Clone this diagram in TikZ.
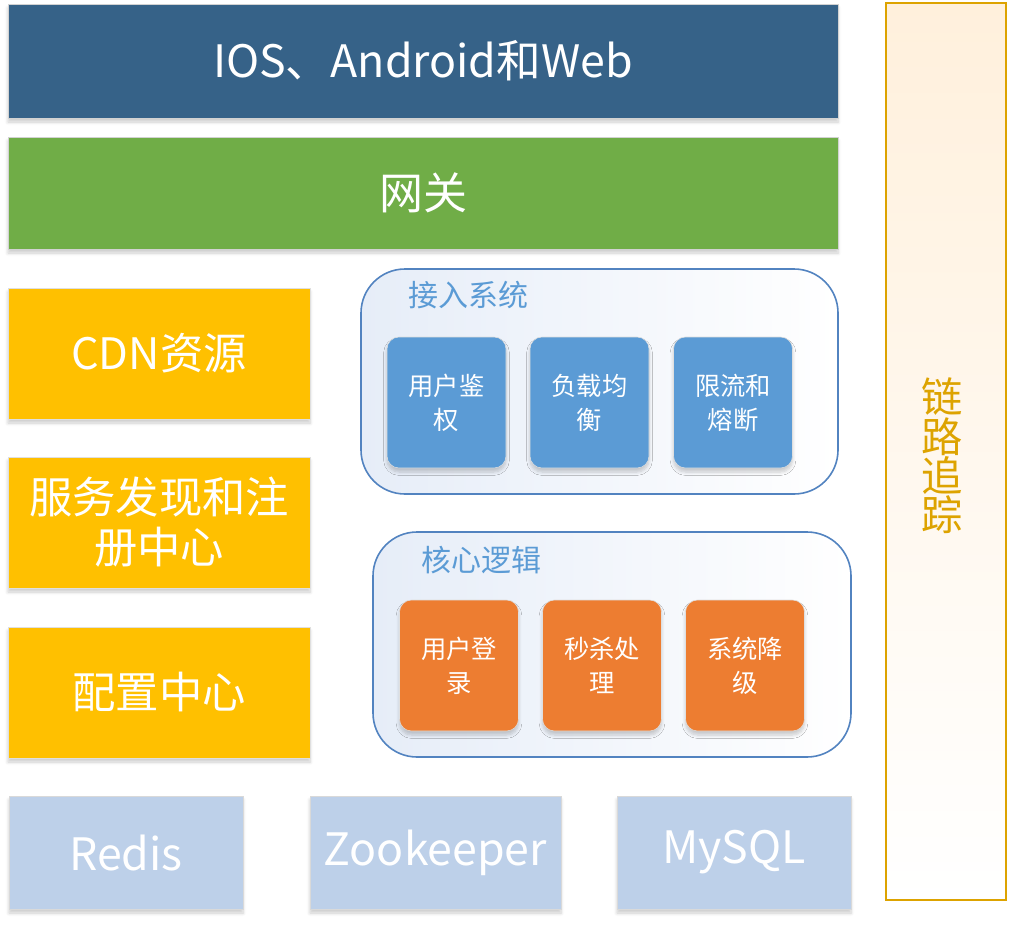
\documentclass[tikz,border=0pt]{standalone}
\usepackage{fontspec}
\setmainfont{Noto Sans CJK SC}
\usetikzlibrary{shadows.blur}
\definecolor{topblue}{HTML}{366288}
\definecolor{gwgreen}{HTML}{70AD47}
\definecolor{ylw}{HTML}{FFC000}
\definecolor{accblue}{HTML}{5B9BD5}
\definecolor{corange}{HTML}{ED7D31}
\definecolor{storeblue}{HTML}{BDD0E9}
\definecolor{contborder}{HTML}{5283C0}
\definecolor{contfill}{HTML}{E6EDF8}
\definecolor{gold}{HTML}{DDA300}
\definecolor{goldfill}{HTML}{FFF0DC}
\tikzset{
  shd/.style={blur shadow={shadow blur steps=6, shadow xshift=0pt, shadow yshift=-3pt, shadow opacity=20, shadow blur radius=2.5pt}},
  band/.style={rectangle, draw=gray!35, line width=0.5pt, text=white, inner sep=0pt, shd},
  sidebox/.style={rectangle, fill=ylw, draw=gray!25, line width=0.4pt, text=white, inner sep=0pt,
     minimum width=226.5pt, minimum height=98.25pt, align=center, font=\fontsize{32.5}{37.5}\selectfont, shd},
  cont/.style={rectangle, rounded corners=33pt, draw=contborder, line width=1.2pt, left color=contfill, right color=white,
     minimum width=357.75pt, minimum height=168.75pt, inner sep=0pt},
  contlabel/.style={anchor=west, text=accblue, font=\fontsize{22.5}{25}\selectfont, inner sep=0pt},
  inbox/.style={rectangle, rounded corners=9pt, draw=gray!25, line width=0.4pt, text=white, inner sep=0pt,
     minimum width=89.25pt, minimum height=98.25pt, align=center, font=\fontsize{19}{25.5}\selectfont, shd},
  store/.style={rectangle, fill=storeblue, draw=gray!30, line width=0.4pt, text=white, inner sep=0pt,
     minimum height=84.75pt, font=\fontsize{33.5}{38}\selectfont, shd},
}
\begin{document}
\begin{tikzpicture}[x=0.75pt, y=-0.75pt]
\useasboundingbox (0,0) rectangle (1009,924);
% top bands
\node[band, fill=topblue, minimum width=622.5pt, minimum height=85.5pt, font=\fontsize{33.5}{38}\selectfont] (clients) at (423,61) {IOS、Android和Web};
\node[band, fill=gwgreen, minimum width=622.5pt, minimum height=84pt, font=\fontsize{33}{38}\selectfont] (gateway) at (423,193) {网关};
% left side boxes
\node[sidebox] (cdn) at (159,353.5) {CDN资源};
\node[sidebox] (registry) at (159,522.5) {服务发现和注\\册中心};
\node[sidebox] (config) at (159,692.5) {配置中心};
% access system container
\node[cont] (access) at (599.5,381.5) {};
\node[contlabel] (accesslbl) at (408,295) {接入系统};
\node[inbox, fill=accblue] (auth) at (446.5,402.5) {用户鉴\\权};
\node[inbox, fill=accblue] (lb) at (589.5,402.5) {负载均\\衡};
\node[inbox, fill=accblue] (limit) at (733,402.5) {限流和\\熔断};
% core logic container
\node[cont, minimum width=358.5pt] (core) at (612,644.5) {};
\node[contlabel] (corelbl) at (421,560) {核心逻辑};
\node[inbox, fill=corange] (login) at (459,665.5) {用户登\\录};
\node[inbox, fill=corange] (seckill) at (602,665.5) {秒杀处\\理};
\node[inbox, fill=corange] (degrade) at (745,665.5) {系统降\\级};
% storage
\node[store, minimum width=175.5pt] (redis) at (126,852.5) {Redis};
\node[store, minimum width=188.25pt] (zk) at (435.5,852.5) {Zookeeper};
\node[store, minimum width=175.5pt] (mysql) at (734,852.5) {MySQL};
% tracing bar
\node[rectangle, draw=gold, line width=1.5pt, top color=goldfill, bottom color=white, minimum width=90pt, minimum height=672.75pt, inner sep=0pt] (trace) at (946,451.5) {};
\node[text=gold, align=center, font=\fontsize{31}{29.5}\selectfont, inner sep=0pt] (tracelbl) at (942,456) {链\\路\\追\\踪};
\end{tikzpicture}
\end{document}
